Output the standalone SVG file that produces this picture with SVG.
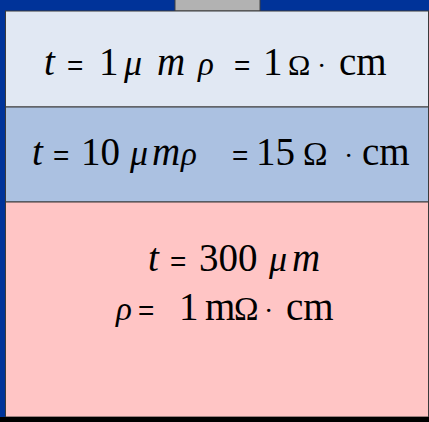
<svg xmlns="http://www.w3.org/2000/svg" width="429" height="422" viewBox="0 0 429 422">
<style>
.t{font-family:"Liberation Serif","Times New Roman",serif;fill:#000}
.b{font-size:39px}
.i{font-style:italic}
.eq{font-family:"Liberation Sans",Arial,sans-serif;font-size:28px}
.mu{font-style:italic;font-size:36px}
.rho{font-style:italic;font-size:33px}
.om{font-size:33px}
.om1{font-size:30px}
.dot{font-size:28px}
</style>
<rect x="0" y="0" width="429" height="422" fill="#003399"/>
<g id="contact"><rect x="175" y="-1" width="85" height="12" fill="#b2b2b2" stroke="#404040" stroke-width="1"/></g>
<g id="layer1">
<rect x="5.5" y="11" width="423" height="96" fill="#e1e8f3" stroke="#3a3a3a" stroke-width="1"/>
<text class="t" y="75"><tspan class="b i" x="44">t</tspan><tspan class="eq" x="67">=</tspan><tspan class="b" x="99">1</tspan><tspan class="mu" x="124">μ</tspan><tspan class="b i" x="157">m</tspan><tspan class="rho" x="198">ρ</tspan><tspan class="eq" x="234">=</tspan><tspan class="b" x="263">1</tspan><tspan class="om1" x="288">Ω</tspan><tspan class="dot" x="317">·</tspan><tspan class="b" x="339">cm</tspan></text>
</g>
<g id="layer2">
<rect x="5.5" y="107" width="423" height="95" fill="#abc1e1" stroke="#3a3a3a" stroke-width="1"/>
<text class="t" y="165"><tspan class="b i" x="32">t</tspan><tspan class="eq" x="53">=</tspan><tspan class="b" x="81">10</tspan><tspan class="mu" x="130">μ</tspan><tspan class="b i" x="152">m</tspan><tspan class="rho" x="181">ρ</tspan><tspan class="eq" x="232">=</tspan><tspan class="b" x="256">15</tspan><tspan class="om" x="303">Ω</tspan><tspan class="dot" x="344">·</tspan><tspan class="b" x="362">cm</tspan></text>
</g>
<g id="layer3">
<rect x="5.5" y="202" width="423" height="215" fill="#ffc5c5" stroke="#3a3a3a" stroke-width="1"/>
<text class="t" y="271"><tspan class="b i" x="148">t</tspan><tspan class="eq" x="170">=</tspan><tspan class="b" x="199">300</tspan><tspan class="mu" x="269">μ</tspan><tspan class="b i" x="292">m</tspan></text>
<text class="t" y="320"><tspan class="rho" x="116">ρ</tspan><tspan class="eq" x="138">=</tspan><tspan class="b" x="179">1</tspan><tspan class="b" x="205">m</tspan><tspan class="om" x="234">Ω</tspan><tspan class="dot" x="264">·</tspan><tspan class="b" x="286">cm</tspan></text>
</g>
<rect x="0" y="417" width="429" height="5" fill="#000"/>
</svg>
